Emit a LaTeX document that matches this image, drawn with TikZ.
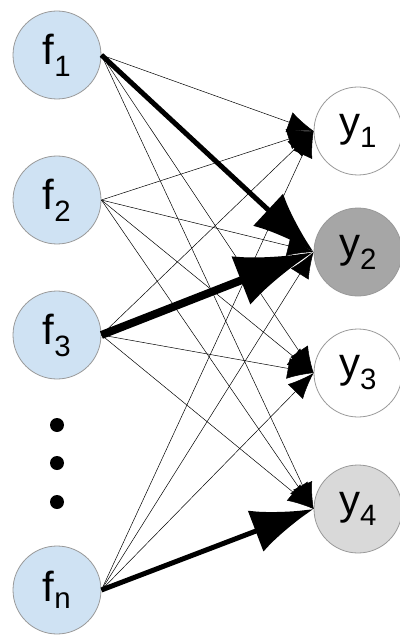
\documentclass[tikz,border=0pt]{standalone}
\usepackage{fontspec}
\setmainfont{Liberation Sans}
\usepackage{tikz}
\usetikzlibrary{arrows.meta}
\usetikzlibrary{positioning}
\definecolor{fblue}{HTML}{CFE2F3}
\definecolor{ydark}{HTML}{A6A6A6}
\definecolor{ylight}{HTML}{D9D9D9}
\definecolor{rim}{HTML}{999999}
\tikzstyle{unit} = [circle, draw=rim, line width=0.8pt, minimum size=88pt, inner sep=0pt, font=\fontsize{42}{42}\selectfont]
\tikzstyle{wthin} = [-{Latex[length=26pt, width=21pt]}, line width=0.5pt]
\tikzstyle{wbold} = [-{Latex[length=62pt, width=44pt]}, line width=5pt]
\tikzstyle{wheavy} = [-{Latex[length=78pt, width=52pt]}, line width=8pt]

\begin{document}
\begin{tikzpicture}[x=1pt, y=-1pt]
\useasboundingbox (0,0) rectangle (399,636);
% inputs
\node [unit, fill=fblue] (F1) at (57, 55) {f\textsubscript{1}};
\node [unit, fill=fblue] (F2) at (57, 200) {f\textsubscript{2}};
\node [unit, fill=fblue] (F3) at (57, 335) {f\textsubscript{3}};
\node [unit, fill=fblue] (Fn) at (57, 590) {f\textsubscript{n}};
\fill (57, 425) circle (7) (57, 463) circle (7) (57, 502) circle (7);
% outputs
\node [unit, fill=white] (Y1) at (358, 131) {y\textsubscript{1}};
\node [unit, fill=ydark] (Y2) at (358, 252) {y\textsubscript{2}};
\node [unit, fill=white] (Y3) at (358, 373) {y\textsubscript{3}};
\node [unit, fill=ylight] (Y4) at (358, 509) {y\textsubscript{4}};
% weights
\draw [wthin] (F1.east) to (Y1.west);
\draw [wthin] (F1.east) to (Y3.west);
\draw [wthin] (F1.east) to (Y4.west);
\draw [wthin] (F2.east) to (Y1.west);
\draw [wthin] (F2.east) to (Y2.west);
\draw [wthin] (F2.east) to (Y3.west);
\draw [wthin] (F2.east) to (Y4.west);
\draw [wthin] (F3.east) to (Y1.west);
\draw [wthin] (F3.east) to (Y3.west);
\draw [wthin] (F3.east) to (Y4.west);
\draw [wthin] (Fn.east) to (Y1.west);
\draw [wthin] (Fn.east) to (Y2.west);
\draw [wthin] (Fn.east) to (Y3.west);
\draw [wbold] (F1.east) to (Y2.west);
\draw [wbold] (Fn.east) to (Y4.west);
\draw [wheavy] (F3.east) to (Y2.west);
\end{tikzpicture}
\end{document}
